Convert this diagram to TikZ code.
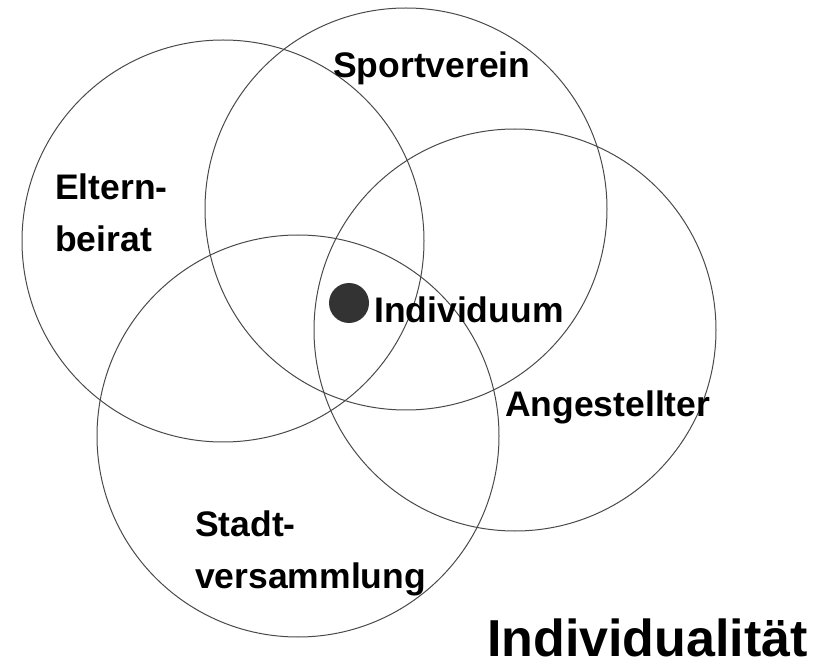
\documentclass[tikz,border=0pt]{standalone}
\usepackage{fontspec}
\setmainfont{Liberation Sans}
\usepackage{xcolor}
\usepackage{tikz}
\usetikzlibrary{positioning}
\definecolor{ringgray}{HTML}{4A4A4A}
\definecolor{dotgray}{HTML}{333333}
\tikzset{
  ring/.style={draw=ringgray, circle, line width=1pt, minimum size=402pt, inner sep=0pt},
  label/.style={inner sep=0pt, align=left, text=black, font=\bfseries\fontsize{35.5}{52}\selectfont},
  person/.style={circle, fill=dotgray, minimum size=40pt, inner sep=0pt},
  heading/.style={inner sep=0pt, text=black, font=\bfseries\fontsize{52}{60}\selectfont}
}

\begin{document}
\begin{tikzpicture}[x=1pt, y=-1pt]
  \useasboundingbox (0,0) rectangle (820,668);

  % the four groups
  \node[ring] (eltern) at (223,241) {};
  \node[ring] (sport)  at (406,209) {};
  \node[ring] (arbeit) at (515,330) {};
  \node[ring] (stadt)  at (298,436) {};

  \node[label, anchor=base west] (sporttext) at (333,78) {Sportverein};
  \node[label, anchor=north west] (elterntext) at (55,174) {Eltern-\\beirat};
  \node[label, anchor=base west] (arbeittext) at (505,417) {Angestellter};
  \node[label, anchor=north west] (stadttext) at (195,511) {Stadt-\\versammlung};

  % the person in the middle
  \node[person] (ich) at (349,303) {};
  \node[label, anchor=base west] (ichtext) at (374,323) {Individuum};

  \node[heading, anchor=base east] (titel) at (808,656) {Individualität};
\end{tikzpicture}
\end{document}
